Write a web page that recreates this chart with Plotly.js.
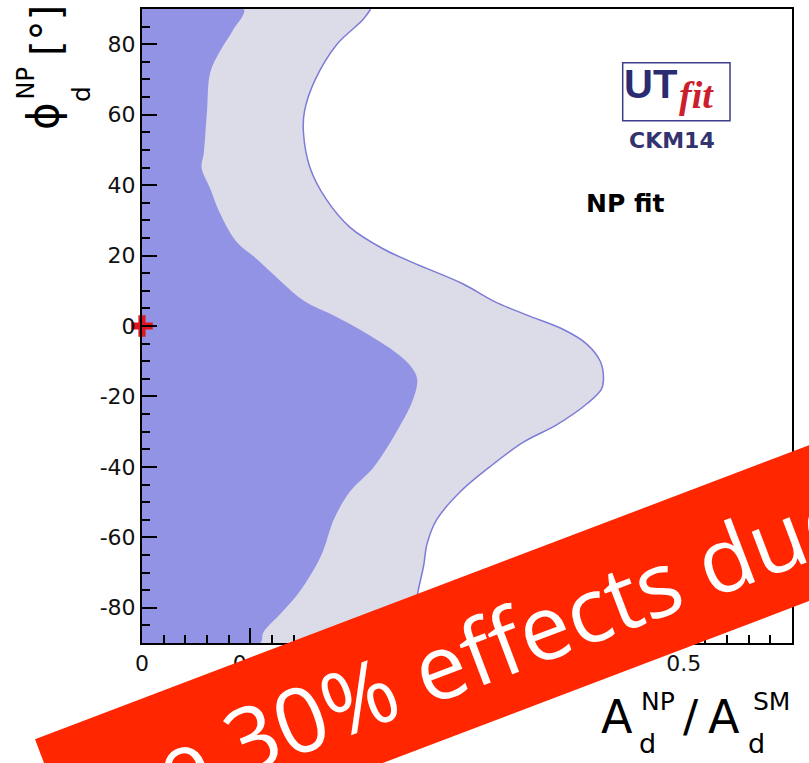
<!DOCTYPE html>
<html>
<head>
<meta charset="utf-8">
<script src="https://cdn.plot.ly/plotly-3.0.1.min.js"></script>
<style>
  html, body { margin: 0; padding: 0; background: #ffffff; }
  #chart { width: 809px; height: 763px; }
</style>
</head>
<body>
<div id="chart"></div>
<script>
// phi_d^NP (degrees) sampled along the 95% probability contour
const phiOuter = [90, 87, 80, 70, 61, 55, 45, 36, 28, 22, 18, 12, 7, 3, -1, -5, -10, -15, -18, -22, -28, -33, -40, -47, -55, -62, -68, -75, -82, -90];
// A_d^NP / A_d^SM on the 95% contour
const ampOuter = [0.211, 0.204, 0.180, 0.160, 0.150, 0.149, 0.155, 0.170, 0.192, 0.222, 0.250, 0.296, 0.325, 0.356, 0.389, 0.410, 0.423, 0.426, 0.424, 0.411, 0.383, 0.352, 0.321, 0.294, 0.272, 0.263, 0.260, 0.255, 0.251, 0.246];

// phi_d^NP (degrees) sampled along the 68% probability contour
const phiInner = [90, 84, 78, 72, 61, 49, 45, 39, 32, 24, 19, 13, 7, 3, -1, -7, -11, -15, -21, -30, -40, -47, -55, -64, -70, -76, -82, -87, -90];
// A_d^NP / A_d^SM on the 68% contour
const ampInner = [0.094, 0.084, 0.072, 0.063, 0.060, 0.057, 0.055, 0.063, 0.072, 0.087, 0.106, 0.127, 0.150, 0.177, 0.201, 0.232, 0.247, 0.254, 0.250, 0.235, 0.214, 0.192, 0.177, 0.167, 0.157, 0.144, 0.127, 0.112, 0.109];

// Standard Model point
const smAmp = [0];
const smPhi = [0];

// Axis ticks
const xTickVals = [0, 0.1, 0.2, 0.3, 0.4, 0.5, 0.6];
const xTickText = ['0', '0.1', '0.2', '0.3', '0.4', '0.5', '0.6'];
const yTickVals = [-80, -60, -40, -20, 0, 20, 40, 60, 80];
const yTickText = ['-80', '-60', '-40', '-20', '0', '20', '40', '60', '80'];

const phiMax = 90, phiMin = -90;

// closed regions: from the phi axis (A = 0) out to each contour
function region(amp, phi) {
  return {
    x: [0].concat(amp, [0]),
    y: [phiMax].concat(phi, [phiMin])
  };
}

const outerReg = region(ampOuter, phiOuter);
const innerReg = region(ampInner, phiInner);
const smooth = 1.0;

const traces = [
  {
    type: 'scatter', mode: 'lines',
    x: outerReg.x, y: outerReg.y,
    fill: 'toself', fillcolor: '#dcdce8',
    line: { width: 0, shape: 'spline', smoothing: smooth, color: '#dcdce8' },
    hoverinfo: 'skip', showlegend: false
  },
  {
    type: 'scatter', mode: 'lines',
    x: innerReg.x, y: innerReg.y,
    fill: 'toself', fillcolor: '#9393e6',
    line: { width: 0, shape: 'spline', smoothing: smooth, color: '#9393e6' },
    hoverinfo: 'skip', showlegend: false
  },
  {
    type: 'scatter', mode: 'lines',
    x: ampOuter, y: phiOuter,
    line: { width: 1.5, shape: 'spline', smoothing: smooth, color: '#7c7cd6' },
    hoverinfo: 'skip', showlegend: false
  },
  {
    type: 'scatter', mode: 'markers',
    x: smAmp, y: smPhi,
    marker: { symbol: 'cross', size: 18, color: '#e0161e' },
    cliponaxis: false, hoverinfo: 'skip', showlegend: false
  }
];

// plot-area geometry (pixels) used to place overlays in paper units
const L = 142, T = 9, W = 650, H = 634;
const px = v => (v - L) / W;
const py = v => (T + H - v) / H;

const sans = 'DejaVu Sans, Liberation Sans, sans-serif';

function txt(text, x, y, size, extra) {
  return Object.assign({
    text: text, xref: 'paper', yref: 'paper', x: px(x), y: py(y),
    xanchor: 'center', yanchor: 'middle', showarrow: false,
    font: { family: sans, size: size, color: '#000000' }
  }, extra || {});
}

// ribbon across the lower right corner
const ribbon = [[35, 739.3], [1100, 334.6], [1100, 490.5], [86.7, 875.5]];
const ribbonPath = 'M' + ribbon.map(p => px(p[0]).toFixed(4) + ',' + py(p[1]).toFixed(4)).join(' L') + ' Z';

const annotations = [
  // y-axis title  phi_d^NP [deg]
  txt('ϕ', 44, 116, 42, { textangle: -90 }),
  txt('NP', 25, 83.5, 24, { textangle: -90 }),
  txt('d', 81, 94, 25, { textangle: -90 }),
  txt('[°]', 46, 30, 40, { textangle: -90 }),
  // x-axis title  A_d^NP / A_d^SM
  txt('A', 617, 716.5, 46),
  txt('NP', 658, 701, 25),
  txt('d', 647, 744, 27),
  txt('/', 691, 716, 45),
  txt('A', 724, 716.5, 46),
  txt('SM', 771, 701, 25),
  txt('d', 756, 744, 27),
  // logo and fit label
  txt('<b>UT</b>', 650, 84, 40, { font: { family: 'Liberation Sans, Arial, sans-serif', size: 40, color: '#2b2b72' } }),
  txt('<b><i>fit</i></b>', 696, 95, 38, { font: { family: 'Liberation Serif, serif', size: 38, color: '#cc1f2d' } }),
  txt('<b>CKM14</b>', 671.5, 140, 22, { font: { family: sans, size: 22, color: '#333370' } }),
  txt('<b>NP fit</b>', 624.5, 204, 25),
  // ribbon text
  txt('e 30% effects due to NP', 622, 595, 90, {
    textangle: -20.8,
    font: { family: 'Open Sans, sans-serif', size: 90, color: '#ffffff' }
  })
];

const axisCommon = {
  showgrid: false, zeroline: false,
  showline: true, linecolor: '#000000', linewidth: 2, mirror: true,
  ticks: 'inside', tickcolor: '#000000', tickwidth: 2, ticklen: 15,
  tickfont: { family: sans, size: 22, color: '#111111' },
  tickmode: 'array', fixedrange: true
};

const layout = {
  width: 809, height: 763,
  margin: { l: L, r: 809 - L - W, t: T, b: 763 - T - H, pad: 0 },
  paper_bgcolor: '#ffffff', plot_bgcolor: '#ffffff',
  showlegend: false,
  xaxis: Object.assign({}, axisCommon, {
    range: [0, 0.6], tickvals: xTickVals, ticktext: xTickText,
    minor: { dtick: 0.02, ticks: 'inside', ticklen: 8, tickwidth: 2, tickcolor: '#000000', showgrid: false }
  }),
  yaxis: Object.assign({}, axisCommon, {
    range: [-90, 90], tickvals: yTickVals, ticktext: yTickText,
    minor: { dtick: 5, ticks: 'inside', ticklen: 8, tickwidth: 2, tickcolor: '#000000', showgrid: false }
  }),
  shapes: [
    { type: 'rect', xref: 'paper', yref: 'paper', x0: px(622.7), x1: px(730), y0: py(120.7), y1: py(62.7),
      line: { color: '#3c3c8c', width: 1.5 }, fillcolor: 'rgba(0,0,0,0)', layer: 'above' },
    { type: 'path', xref: 'paper', yref: 'paper', path: ribbonPath,
      fillcolor: '#ff2600', line: { width: 0 }, layer: 'above' }
  ],
  annotations: annotations
};

Plotly.newPlot('chart', traces, layout, { displayModeBar: false, staticPlot: true });
</script>
</body>
</html>
